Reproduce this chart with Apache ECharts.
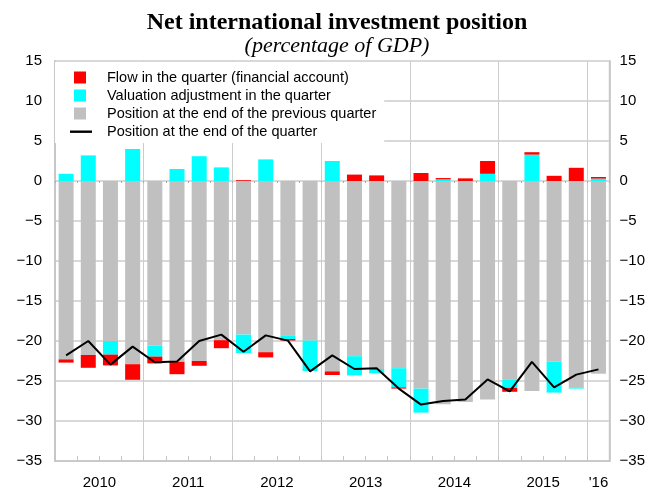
<!DOCTYPE html>
<html>
<head>
<meta charset="utf-8">
<script src="https://cdn.jsdelivr.net/npm/echarts@6/dist/echarts.min.js"></script>
<style>
  html, body { margin: 0; padding: 0; background: #fff; }
  #chart { width: 648px; height: 493px; }
</style>
</head>
<body>
<div id="chart"></div>
<script>
// quarters 2010Q1 .. 2016Q1
let quarters = [
  '2010Q1', '2010Q2', '2010Q3', '2010Q4',
  '2011Q1', '2011Q2', '2011Q3', '2011Q4',
  '2012Q1', '2012Q2', '2012Q3', '2012Q4',
  '2013Q1', '2013Q2', '2013Q3', '2013Q4',
  '2014Q1', '2014Q2', '2014Q3', '2014Q4',
  '2015Q1', '2015Q2', '2015Q3', '2015Q4',
  '2016Q1'
];
// position at the end of the previous quarter
let previousPosition = [
  -22.3, -21.75, -20.0, -22.9,
  -20.6, -22.6, -22.5, -19.9,
  -19.2, -21.4, -19.3, -19.95,
  -23.8, -21.9, -23.5, -23.4,
  -25.95, -27.9, -27.5, -27.3,
  -24.8, -26.25, -22.6, -25.8,
  -24.1
];
// valuation adjustment in the quarter
let valuation = [
  0.9, 3.2, -1.7, 4.0,
  -1.35, 1.5, 3.1, 1.7,
  -2.3, 2.7, -0.45, -3.8,
  2.5, -2.4, -0.55, -2.4,
  -3.0, 0.2, -0.1, 0.9,
  -1.05, 3.3, -3.85, -0.15,
  0.3
];
// flow in the quarter (financial account)
let flow = [
  -0.4, -1.6, -1.35, -1.95,
  -0.85, -1.55, -0.6, -1.0,
  0.1, -0.65, -0.2, 0,
  -0.45, 0.8, 0.7, -0.15,
  1.0, 0.17, 0.33, 1.6,
  -0.5, 0.3, 0.65, 1.65,
  0.2
];
// position at the end of the quarter
let endPosition = [
  -21.8, -20.0, -22.95, -20.7,
  -22.65, -22.55, -20.0, -19.2,
  -21.35, -19.3, -19.95, -23.8,
  -21.8, -23.5, -23.4, -25.95,
  -27.95, -27.5, -27.3, -24.8,
  -26.3, -22.6, -25.8, -24.2,
  -23.55
];

let names = [
  'Flow in the quarter (financial account)',
  'Valuation adjustment in the quarter',
  'Position at the end of the previous quarter',
  'Position at the end of the quarter'
];

let squareIcon = 'path://M0,0L0,0M34,12L34,12M6,0h12v12h-12z';
let lineIcon = 'path://M0,0L0,0M34,12L34,12M2,5h22v2.4h-22z';
let gridColor = '#d9d9d9';
let frameColor = '#c4c4c4';
let font = 'Liberation Sans, Arial, sans-serif';
let serif = 'Liberation Serif, Times New Roman, serif';

let myChart = echarts.init(document.getElementById('chart'));
let yLabel = function (v) {
  return String(v).replace('-', '\u2212');
};
let option = {
  backgroundColor: '#fff',
  animation: false,
  title: {
    text: 'Net international investment position',
    subtext: '(percentage of GDP)',
    left: 332,
    top: 6,
    textAlign: 'center',
    itemGap: 0,
    textStyle: {
      fontFamily: serif,
      fontWeight: 'bold',
      fontSize: 24,
      color: '#000'
    },
    subtextStyle: {
      fontFamily: serif,
      fontStyle: 'italic',
      fontSize: 22,
      color: '#000'
    }
  },
  legend: {
    orient: 'vertical',
    left: 55,
    top: 62,
    padding: [8, 8, 4, 13],
    itemGap: 3,
    itemWidth: 34,
    itemHeight: 12,
    backgroundColor: '#fff',
    textStyle: {fontFamily: font, fontSize: 14.5, color: '#000'},
    data: [
      {name: names[0], icon: squareIcon},
      {name: names[1], icon: squareIcon},
      {name: names[2], icon: squareIcon},
      {name: names[3], icon: lineIcon}
    ]
  },
  grid: {
    left: 55,
    right: 38,
    top: 61,
    bottom: 32,
    show: true,
    borderColor: frameColor,
    borderWidth: 1.5
  },
  xAxis: [
    {
      type: 'category',
      data: quarters,
      position: 'bottom',
      axisLine: {onZero: false, lineStyle: {color: frameColor, width: 1.5}},
      axisTick: {show: true, inside: true, length: 5, interval: 0, lineStyle: {color: frameColor}},
      splitLine: {
        show: true,
        interval: function (index) {
          return index % 4 === 0;
        },
        lineStyle: {color: '#cccccc', width: 1}
      },
      axisLabel: {
        interval: function (index) {
          return index % 4 === 2 || index === 24;
        },
        margin: 14,
        fontFamily: font,
        fontSize: 15,
        color: '#000',
        formatter: function (value, index) {
          if (index === 24) return "'16";
          return '{y|' + value.slice(0, 4) + '}';
        },
        rich: {
          y: {padding: [0, 22, 0, 0], fontFamily: font, fontSize: 15, color: '#000'}
        }
      }
    },
    {
      type: 'category',
      data: quarters,
      position: 'bottom',
      axisLine: {show: false, onZero: true},
      axisTick: {show: true, length: 2, interval: 0, lineStyle: {color: '#aaaaaa'}},
      axisLabel: {show: false},
      splitLine: {show: false}
    }
  ],
  yAxis: [
    {
      type: 'value',
      min: -35,
      max: 15,
      interval: 5,
      position: 'left',
      axisLine: {show: true, lineStyle: {color: frameColor, width: 1.5}},
      axisTick: {show: false},
      splitLine: {show: true, lineStyle: {color: gridColor, width: 2}},
      axisLabel: {margin: 13, fontFamily: font, fontSize: 15, color: '#000', formatter: yLabel}
    },
    {
      type: 'value',
      min: -35,
      max: 15,
      interval: 5,
      position: 'right',
      axisLine: {show: true, lineStyle: {color: frameColor, width: 1.5}},
      axisTick: {show: false},
      splitLine: {show: false},
      axisLabel: {margin: 10, fontFamily: font, fontSize: 15, color: '#000', formatter: yLabel}
    }
  ],
  series: [
    {
      name: names[2],
      type: 'bar',
      stack: 'nip',
      barWidth: 15,
      itemStyle: {color: '#c0c0c0'},
      data: previousPosition
    },
    {
      name: names[1],
      type: 'bar',
      stack: 'nip',
      barWidth: 15,
      itemStyle: {color: '#00ffff'},
      data: valuation
    },
    {
      name: names[0],
      type: 'bar',
      stack: 'nip',
      barWidth: 15,
      itemStyle: {color: '#ff0000'},
      data: flow
    },
    {
      name: names[3],
      type: 'line',
      showSymbol: false,
      symbol: 'none',
      z: 5,
      itemStyle: {color: '#000'},
      lineStyle: {color: '#000', width: 2},
      data: endPosition
    }
  ]
};
myChart.setOption(option);
</script>
</body>
</html>
